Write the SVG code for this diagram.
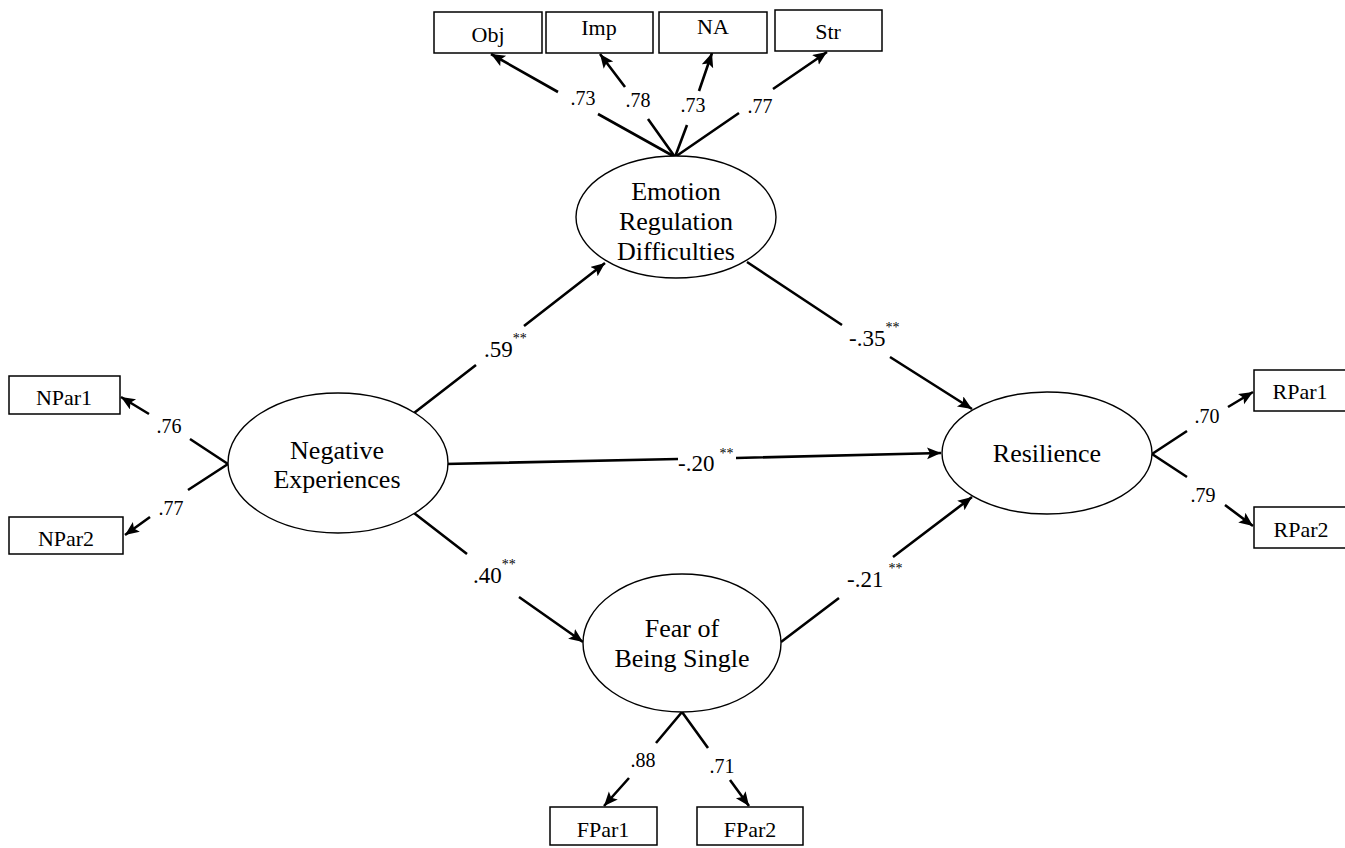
<svg xmlns="http://www.w3.org/2000/svg" width="1345" height="848" viewBox="0 0 1345 848">
<style>
text{font-family:"Liberation Serif","Times New Roman",serif;fill:#000}
.node{fill:#fff;stroke:#000;stroke-width:1.4}
.box{fill:#fff;stroke:#000;stroke-width:1.5}
.lat{font-size:26px;text-anchor:middle}
.obs{font-size:22px;text-anchor:middle}
.ld{font-size:20px;text-anchor:middle}
.pc{font-size:23px}
.sup{font-size:14px}
.conn path{fill:none;stroke:#000;stroke-width:2.6;marker-end:url(#ah)}
</style>
<defs>
<marker id="ah" markerUnits="userSpaceOnUse" markerWidth="16" markerHeight="14" refX="14" refY="6" orient="auto">
<path d="M0,0 L14,6 L0,12 L3,6 Z" fill="#000"/>
</marker>
</defs>
<rect width="1345" height="848" fill="#fff"/>

<g id="connectors" class="conn">
<path d="M675,157 L598,114 M558,92 L491,54"/>
<path d="M675,157 L648,119 M625,87 L600,54"/>
<path d="M675,157 L687,125 M699,91 L712,53"/>
<path d="M675,157 L739,113 M773,89 L827,52"/>
<path d="M228,464 L190,439 M149,414 L121,397"/>
<path d="M228,464 L188,490 M150,517 L125,535"/>
<path d="M1152,454 L1187,431 M1228,407 L1253,392"/>
<path d="M1152,454 L1187,477 M1225,505 L1253,526"/>
<path d="M414,413 L476,365 M524,326 L605,263"/>
<path d="M747,262 L842,325 M890,357 L972,409"/>
<path d="M445,464 L678,459 M736,458 L941,453"/>
<path d="M414,513 L467,554 M519,597 L583,642"/>
<path d="M781,642 L839,598 M893,557 L972,497"/>
<path d="M682,712 L656,743 M629,778 L604,806"/>
<path d="M682,712 L708,748 M730,780 L749,806"/>
</g>

<g id="labels">
<text class="ld" x="583" y="105">.73</text>
<text class="ld" x="638" y="107">.78</text>
<text class="ld" x="693" y="112">.73</text>
<text class="ld" x="760" y="113">.77</text>
<text class="ld" x="169" y="433">.76</text>
<text class="ld" x="171" y="515">.77</text>
<text class="ld" x="1207" y="423">.70</text>
<text class="ld" x="1203" y="502">.79</text>
<text class="ld" x="643" y="767">.88</text>
<text class="ld" x="722" y="773">.71</text>
<text class="pc" x="484" y="357">.59<tspan class="sup" dy="-14">**</tspan></text>
<text class="pc" x="849" y="346">-.35<tspan class="sup" dy="-14">**</tspan></text>
<text class="pc" x="678" y="471">-.20<tspan class="sup" dx="5" dy="-13">**</tspan></text>
<text class="pc" x="473" y="583">.40<tspan class="sup" dy="-14">**</tspan></text>
<text class="pc" x="847" y="587">-.21<tspan class="sup" dx="5" dy="-14">**</tspan></text>
</g>

<g id="n-emotion">
<ellipse class="node" cx="676" cy="217" rx="100" ry="61"/>
<text class="lat" x="676" y="200">Emotion</text>
<text class="lat" x="676" y="230">Regulation</text>
<text class="lat" x="676" y="260">Difficulties</text>
</g>
<g id="n-negative">
<ellipse class="node" cx="338" cy="463" rx="110" ry="70"/>
<text class="lat" x="337" y="459">Negative</text>
<text class="lat" x="337" y="488">Experiences</text>
</g>
<g id="n-resilience">
<ellipse class="node" cx="1047" cy="453" rx="105" ry="61"/>
<text class="lat" x="1047" y="462">Resilience</text>
</g>
<g id="n-fear">
<ellipse class="node" cx="682" cy="643" rx="99" ry="69"/>
<text class="lat" x="682" y="637">Fear of</text>
<text class="lat" x="682" y="667">Being Single</text>
</g>

<g id="n-obj"><rect class="box" x="434" y="12" width="108" height="41"/><text class="obs" x="488" y="42">Obj</text></g>
<g id="n-imp"><rect class="box" x="546" y="12" width="107" height="41"/><text class="obs" x="599" y="35">Imp</text></g>
<g id="n-na"><rect class="box" x="659" y="12" width="108" height="41"/><text class="obs" x="713" y="34">NA</text></g>
<g id="n-str"><rect class="box" x="775" y="10" width="107" height="41"/><text class="obs" x="828" y="39">Str</text></g>
<g id="n-npar1"><rect class="box" x="9" y="376" width="111" height="38"/><text class="obs" x="64" y="405">NPar1</text></g>
<g id="n-npar2"><rect class="box" x="9" y="517" width="114" height="37"/><text class="obs" x="66" y="546">NPar2</text></g>
<g id="n-rpar1"><rect class="box" x="1254" y="370" width="96" height="41"/><text class="obs" x="1300" y="399">RPar1</text></g>
<g id="n-rpar2"><rect class="box" x="1254" y="507" width="96" height="41"/><text class="obs" x="1301" y="537">RPar2</text></g>
<g id="n-fpar1"><rect class="box" x="550" y="807" width="107" height="38"/><text class="obs" x="603" y="837">FPar1</text></g>
<g id="n-fpar2"><rect class="box" x="697" y="807" width="106" height="38"/><text class="obs" x="750" y="837">FPar2</text></g>
</svg>
